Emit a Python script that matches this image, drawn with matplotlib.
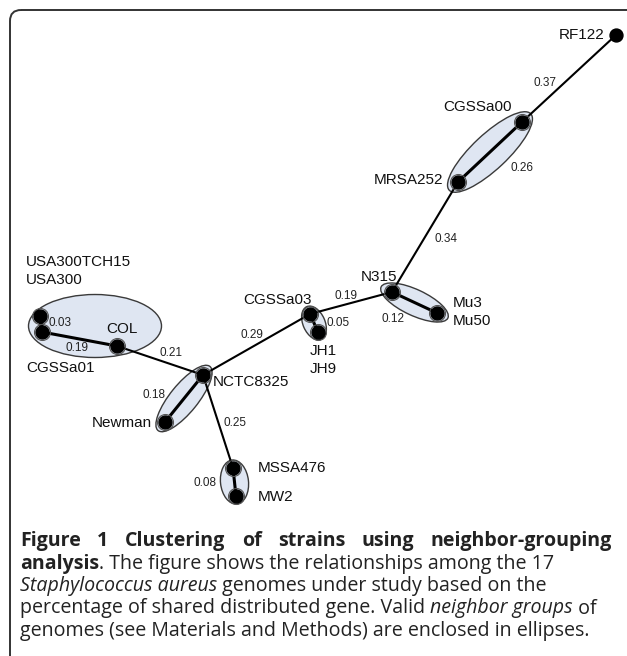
import numpy as np
import matplotlib
matplotlib.use("Agg")
import matplotlib.pyplot as plt
from matplotlib.patches import Ellipse, FancyBboxPatch

# node layout (figure pixels, y downwards)
node_names = ["RF122", "CGSSa00", "MRSA252", "N315", "Mu3", "CGSSa03", "JH1",
              "NCTC8325", "Newman", "COL", "CGSSa01", "USA300", "MSSA476", "MW2"]
node_x = [616, 522, 458, 392, 437, 310, 318, 203, 165, 117, 42, 40, 233, 236]
node_y = [35, 122, 182, 292, 313, 314, 332, 375, 422, 346, 332, 316, 468, 496]

# edges and their distances
edge_from = ["RF122", "CGSSa00", "MRSA252", "N315", "N315", "CGSSa03", "CGSSa03",
             "NCTC8325", "NCTC8325", "NCTC8325", "MSSA476", "COL", "CGSSa01"]
edge_to = ["CGSSa00", "MRSA252", "N315", "Mu3", "CGSSa03", "JH1", "NCTC8325",
           "Newman", "COL", "MSSA476", "MW2", "CGSSa01", "USA300"]
edge_dist = [0.37, 0.26, 0.34, 0.12, 0.19, 0.05, 0.29, 0.18, 0.21, 0.25, 0.08, 0.19, 0.03]

# neighbor groups (enclosed in ellipses)
groups = [["CGSSa00", "MRSA252"], ["N315", "Mu3"], ["CGSSa03", "JH1"],
          ["NCTC8325", "Newman"], ["MSSA476", "MW2"], ["COL", "CGSSa01", "USA300"]]

# label text per node (some nodes stand for several genomes)
node_labels = {
    "RF122": ["RF122"], "CGSSa00": ["CGSSa00"], "MRSA252": ["MRSA252"],
    "N315": ["N315"], "Mu3": ["Mu3", "Mu50"], "CGSSa03": ["CGSSa03"],
    "JH1": ["JH1", "JH9"], "NCTC8325": ["NCTC8325"], "Newman": ["Newman"],
    "COL": ["COL"], "CGSSa01": ["CGSSa01"], "USA300": ["USA300TCH15", "USA300"],
    "MSSA476": ["MSSA476"], "MW2": ["MW2"],
}

# --- styling / placement ---
label_off = {  # dx, dy of first line, ha
    "RF122": (-12, 0, "right"), "CGSSa00": (-44, -15, "center"),
    "MRSA252": (-15, -2, "right"), "N315": (-13, -15, "center"),
    "Mu3": (16, -10, "left"), "CGSSa03": (-32, -14, "center"),
    "JH1": (5, 19, "center"), "NCTC8325": (10, 7, "left"),
    "Newman": (-13, 1, "right"), "COL": (5, -17, "center"),
    "CGSSa01": (-16, 36, "left"), "USA300": (-14, -54, "left"),
    "MSSA476": (25, 0, "left"), "MW2": (22, 1, "left"),
}
edge_lab_off = [(-24, 4), (32, 16), (21, 2), (-22, 17), (-5, -7), (24, 0), (-5, -10),
                (-30, -3), (11, -8), (17, 1), (-30, 1), (-3, 9), (19, -1)]
inner_lw = {"CGSSa01": 3.2}
# ellipse: pad along axis, thickness ; last group explicit
ell_geom = [(12, 35), (12, 26), (8, 22), (11, 28), (8, 28)]
big_ell = (95, 326, 133, 63)

W, H = 627, 656
fig = plt.figure(figsize=(W / 100, H / 100), dpi=100)
ax = fig.add_axes([0, 0, 1, 1])
ax.set_xlim(0, W)
ax.set_ylim(H, 0)
ax.axis("off")

pos = {n: (x, y) for n, x, y in zip(node_names, node_x, node_y)}

border = FancyBboxPatch((10, 10), 640, 660, boxstyle="round,pad=0,rounding_size=11",
                        fc="none", ec="#333333", lw=1.4)
ax.add_patch(border)

ell_fc = "#dfe6f2"
ell_ec = "#3a3a3a"
for g, geom in zip(groups[:5], ell_geom):
    (x1, y1), (x2, y2) = pos[g[0]], pos[g[1]]
    d = np.hypot(x2 - x1, y2 - y1)
    ang = np.degrees(np.arctan2(y2 - y1, x2 - x1))
    ax.add_patch(Ellipse(((x1 + x2) / 2, (y1 + y2) / 2), d + 2 * geom[0], geom[1],
                         angle=ang, fc=ell_fc, ec=ell_ec, lw=1.0, zorder=1))
cx, cy, ew, eh = big_ell
ax.add_patch(Ellipse((cx, cy), ew, eh, fc=ell_fc, ec=ell_ec, lw=1.0, zorder=1))

in_group = set(n for g in groups for n in g)
for a, b, dist, off in zip(edge_from, edge_to, edge_dist, edge_lab_off):
    (x1, y1), (x2, y2) = pos[a], pos[b]
    same = any(a in g and b in g for g in groups)
    lw = inner_lw.get(a, 2.2 if same else 1.5)
    ax.plot([x1, x2], [y1, y2], color="black", lw=lw, solid_capstyle="round", zorder=2)
    ax.text((x1 + x2) / 2 + off[0], (y1 + y2) / 2 + off[1], f"{dist:.2f}",
            ha="center", va="center", fontsize=8.5, family="Liberation Sans",
            color="#222222", zorder=4)

for n in node_names:
    x, y = pos[n]
    if n in in_group:
        ax.plot(x, y, "o", ms=11.5, mfc="none", mec="#555555", mew=0.8, zorder=3)
    ax.plot(x, y, "o", ms=9.3, color="black", zorder=3)
    dx, dy, ha = label_off[n]
    for i, t in enumerate(node_labels[n]):
        ax.text(x + dx, y + dy + i * 18, t, ha=ha, va="center", fontsize=11,
                family="Liberation Sans", color="#111111", zorder=4)

# caption
renderer = fig.canvas.get_renderer()
cap_font = "Open Sans"
cap_size = 14.1


def twidth(s, **kw):
    t = ax.text(0, 0, s, fontsize=cap_size, family=cap_font, **kw)
    w = t.get_window_extent(renderer).width
    t.remove()
    return w


def draw_runs(x, y, runs):
    for s, kw in runs:
        ax.text(x, y, s, fontsize=cap_size, family=cap_font, ha="left",
                va="baseline", color="#222222", **kw)
        x += twidth(s, **kw)


left, right = 20, 612
base0, step = 546, 22.5
bold = {"weight": "bold"}
words = "Figure 1 Clustering of strains using neighbor-grouping".split()
ww = [twidth(w, **bold) for w in words]
gap = (right - left - sum(ww)) / (len(words) - 1)
x = left
for w, wd in zip(words, ww):
    ax.text(x, base0, w, fontsize=cap_size, family=cap_font, weight="bold",
            ha="left", va="baseline", color="#222222")
    x += wd + gap

norm = {}
ital = {"style": "italic"}
lines = [
    [("analysis", bold), (". The figure shows the relationships among the 17", norm)],
    [("Staphylococcus aureus", ital), (" genomes under study based on the", norm)],
    [("percentage of shared distributed gene. Valid ", norm), ("neighbor groups", ital),
     (" of", norm)],
    [("genomes (see Materials and Methods) are enclosed in ellipses.", norm)],
]
for i, runs in enumerate(lines):
    draw_runs(left, base0 + (i + 1) * step, runs)

fig.savefig("out.png", dpi=100)
